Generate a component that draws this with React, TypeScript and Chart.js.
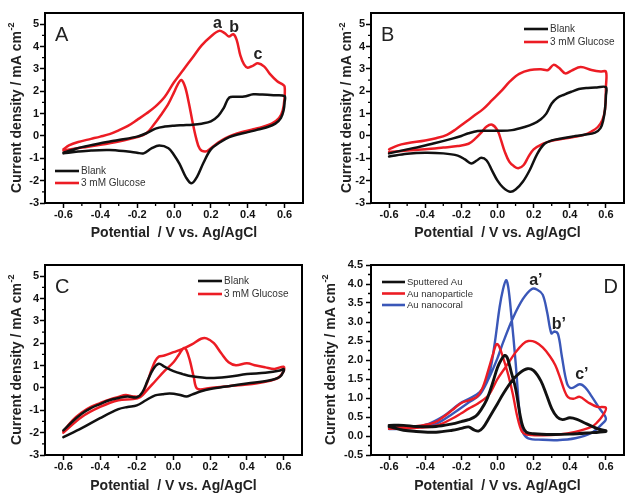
import React, { useEffect, useRef } from 'react';
import { Chart, registerables } from 'chart.js';
Chart.register(...registerables);

const FONT = '"Liberation Sans", Arial, Helvetica, sans-serif';
Chart.defaults.font.family = FONT;

// ---------------- axis ticks ----------------
const X_TICKS = [-0.6, -0.4, -0.2, 0.0, 0.2, 0.4, 0.6];
const X_MINOR = [-0.5, -0.3, -0.1, 0.1, 0.3, 0.5];
const Y_TICKS_ABC = [-3, -2, -1, 0, 1, 2, 3, 4, 5];
const Y_MINOR_ABC = [-2.5, -1.5, -0.5, 0.5, 1.5, 2.5, 3.5, 4.5];
const Y_TICKS_D = [-0.5, 0.0, 0.5, 1.0, 1.5, 2.0, 2.5, 3.0, 3.5, 4.0, 4.5];
const Y_MINOR_D = [-0.25, 0.25, 0.75, 1.25, 1.75, 2.25, 2.75, 3.25, 3.75, 4.25];

// ---------------- Panel A ----------------
const A_BLANK_E = [-0.6, -0.55, -0.5, -0.4, -0.3, -0.2, -0.15, -0.1, -0.05, 0.0, 0.05, 0.1, 0.15, 0.2, 0.24, 0.27, 0.3, 0.34, 0.38, 0.43, 0.48, 0.54, 0.6,
  0.6, 0.595, 0.58, 0.55, 0.5, 0.45, 0.4, 0.34, 0.3, 0.25, 0.2, 0.16, 0.125, 0.095, 0.065, 0.03, 0.0, -0.03, -0.08, -0.12, -0.165, -0.2, -0.25, -0.35, -0.45, -0.52, -0.6];
const A_BLANK_J = [-0.75, -0.62, -0.5, -0.33, -0.18, -0.03, 0.12, 0.33, 0.42, 0.46, 0.48, 0.5, 0.55, 0.65, 0.9, 1.25, 1.72, 1.75, 1.76, 1.86, 1.85, 1.82, 1.78,
  1.5, 1.15, 0.8, 0.55, 0.38, 0.27, 0.17, 0.05, -0.05, -0.28, -0.6, -1.2, -1.83, -2.12, -1.85, -1.25, -0.85, -0.55, -0.43, -0.55, -0.78, -0.75, -0.7, -0.63, -0.65, -0.7, -0.78];
const A_GLU_E = [-0.6, -0.57, -0.52, -0.45, -0.4, -0.35, -0.3, -0.25, -0.2, -0.15, -0.1, -0.05, 0.0, 0.05, 0.1, 0.15, 0.2, 0.245, 0.275, 0.298, 0.322, 0.34, 0.36, 0.38, 0.4, 0.43, 0.455, 0.49, 0.52, 0.56, 0.59, 0.6,
  0.6, 0.59, 0.57, 0.53, 0.48, 0.43, 0.37, 0.32, 0.28, 0.24, 0.2, 0.17, 0.14, 0.12, 0.1, 0.08, 0.06, 0.04, 0.02, 0.0, -0.03, -0.07, -0.11, -0.15, -0.2, -0.3, -0.4, -0.5, -0.6];
const A_GLU_J = [-0.6, -0.42, -0.27, -0.13, -0.03, 0.08, 0.25, 0.45, 0.72, 1.0, 1.32, 1.75, 2.4, 2.95, 3.5, 4.05, 4.45, 4.7, 4.6, 4.45, 4.55, 4.3, 3.6, 3.2, 3.05, 3.15, 3.25, 3.1, 2.78, 2.45, 2.3, 2.22,
  1.7, 1.15, 0.8, 0.55, 0.4, 0.3, 0.18, 0.05, -0.1, -0.3, -0.55, -0.7, -0.58, -0.1, 0.65, 1.5, 2.2, 2.5, 2.3, 1.95, 1.45, 0.95, 0.5, 0.12, -0.05, -0.25, -0.4, -0.52, -0.65];

// ---------------- Panel B ----------------
const B_BLANK_E = [-0.6, -0.5, -0.43, -0.35, -0.25, -0.2, -0.16, -0.11, -0.05, 0.0, 0.08, 0.15, 0.2, 0.24, 0.27, 0.3, 0.33, 0.37, 0.41, 0.45, 0.5, 0.55, 0.6,
  0.6, 0.595, 0.585, 0.57, 0.54, 0.48, 0.42, 0.36, 0.3, 0.26, 0.22, 0.18, 0.14, 0.1, 0.07, 0.03, 0.0, -0.03, -0.06, -0.09, -0.115, -0.145, -0.18, -0.22, -0.3, -0.4, -0.5, -0.6];
const B_BLANK_J = [-0.78, -0.6, -0.48, -0.33, -0.12, 0.0, 0.12, 0.22, 0.23, 0.23, 0.26, 0.4, 0.55, 0.75, 1.0, 1.45, 1.7, 1.85, 1.98, 2.1, 2.15, 2.17, 2.18,
  1.8, 1.2, 0.7, 0.35, 0.15, 0.05, -0.02, -0.1, -0.2, -0.35, -0.8, -1.5, -2.05, -2.4, -2.5, -2.3, -2.0, -1.55, -1.1, -0.98, -1.1, -1.23, -1.05, -0.88, -0.78, -0.75, -0.8, -0.92];
const B_GLU_E = [-0.6, -0.55, -0.5, -0.4, -0.34, -0.28, -0.23, -0.18, -0.13, -0.08, -0.03, 0.02, 0.07, 0.12, 0.18, 0.24, 0.28, 0.31, 0.34, 0.375, 0.41, 0.46, 0.52, 0.57, 0.6,
  0.6, 0.595, 0.58, 0.555, 0.52, 0.48, 0.42, 0.37, 0.3, 0.25, 0.2, 0.17, 0.145, 0.115, 0.09, 0.065, 0.04, 0.02, 0.0, -0.03, -0.06, -0.09, -0.12, -0.16, -0.22, -0.3, -0.4, -0.5, -0.6];
const B_GLU_J = [-0.6, -0.42, -0.33, -0.2, -0.1, 0.05, 0.3, 0.6, 0.9, 1.2, 1.6, 2.0, 2.45, 2.78, 2.95, 2.98, 2.95, 3.18, 3.05, 2.8, 2.92, 3.08, 2.95, 2.88, 2.88,
  2.2, 1.2, 0.7, 0.4, 0.2, 0.05, -0.05, -0.12, -0.22, -0.35, -0.6, -0.95, -1.3, -1.45, -1.35, -1.15, -0.7, -0.2, 0.25, 0.5, 0.42, 0.15, -0.1, -0.35, -0.45, -0.52, -0.6, -0.65, -0.72];

// ---------------- Panel C ----------------
const C_BLANK_E = [-0.6, -0.55, -0.5, -0.45, -0.4, -0.35, -0.3, -0.25, -0.2, -0.17, -0.14, -0.11, -0.08, -0.05, 0.0, 0.05, 0.1, 0.2, 0.3, 0.4, 0.5, 0.58, 0.6,
  0.6, 0.58, 0.52, 0.4, 0.3, 0.2, 0.15, 0.1, 0.07, 0.03, -0.02, -0.06, -0.1, -0.15, -0.2, -0.25, -0.3, -0.4, -0.5, -0.6];
const C_BLANK_J = [-1.9, -1.5, -1.15, -0.9, -0.72, -0.55, -0.45, -0.38, -0.42, -0.2, 0.35, 0.85, 1.08, 0.95, 0.75, 0.62, 0.52, 0.44, 0.5, 0.62, 0.68, 0.78, 0.85,
  0.75, 0.5, 0.33, 0.2, 0.08, -0.05, -0.15, -0.3, -0.38, -0.3, -0.25, -0.28, -0.33, -0.55, -0.78, -0.85, -0.95, -1.35, -1.8, -2.2];
const C_GLU_E = [-0.6, -0.55, -0.5, -0.45, -0.4, -0.35, -0.3, -0.26, -0.22, -0.18, -0.15, -0.12, -0.1, -0.08, -0.05, 0.0, 0.05, 0.1, 0.15, 0.18, 0.22, 0.26, 0.3, 0.34, 0.4, 0.45, 0.5, 0.55, 0.6,
  0.6, 0.57, 0.5, 0.4, 0.3, 0.2, 0.13, 0.11, 0.09, 0.07, 0.055, 0.03, 0.0, -0.05, -0.1, -0.15, -0.18, -0.22, -0.3, -0.4, -0.5, -0.6];
const C_GLU_J = [-1.95, -1.45, -1.1, -0.85, -0.68, -0.52, -0.4, -0.32, -0.38, -0.35, 0.1, 0.8, 1.2, 1.4, 1.45, 1.6, 1.75, 1.95, 2.2, 2.22, 2.0, 1.55, 1.15, 1.02, 1.1, 1.0, 0.92, 0.85, 0.95,
  0.75, 0.45, 0.28, 0.15, 0.08, 0.0, -0.04, 0.5, 1.2, 1.7, 1.78, 1.5, 1.15, 0.75, 0.3, -0.15, -0.4, -0.5, -0.55, -0.85, -1.3, -2.0];

// ---------------- Panel D ----------------
const D_SPUT_E = [-0.6, -0.52, -0.45, -0.34, -0.25, -0.2, -0.16, -0.13, -0.105, -0.08, -0.05, 0.0, 0.03, 0.08, 0.12, 0.165, 0.2, 0.24, 0.27, 0.3, 0.33, 0.36, 0.4, 0.44, 0.48, 0.52, 0.56, 0.6,
  0.6, 0.5, 0.4, 0.3, 0.2, 0.16, 0.14, 0.125, 0.1, 0.075, 0.055, 0.04, 0.02, 0.0, -0.03, -0.06, -0.09, -0.12, -0.16, -0.2, -0.25, -0.34, -0.45, -0.52, -0.6];
const D_SPUT_J = [0.25, 0.15, 0.12, 0.1, 0.15, 0.2, 0.24, 0.16, 0.13, 0.22, 0.45, 0.85, 1.1, 1.45, 1.65, 1.77, 1.72, 1.45, 1.1, 0.72, 0.5, 0.43, 0.48, 0.44, 0.35, 0.26, 0.18, 0.14,
  0.12, 0.08, 0.05, 0.04, 0.06, 0.1, 0.25, 0.55, 1.25, 1.7, 2.05, 2.12, 2.0, 1.8, 1.35, 0.95, 0.7, 0.52, 0.43, 0.38, 0.32, 0.25, 0.25, 0.28, 0.28];
const D_NP_E = [-0.6, -0.5, -0.43, -0.34, -0.25, -0.2, -0.16, -0.11, -0.05, 0.0, 0.05, 0.1, 0.14, 0.17, 0.21, 0.25, 0.29, 0.32, 0.345, 0.37, 0.39, 0.42, 0.455, 0.5, 0.55, 0.6,
  0.58, 0.55, 0.52, 0.43, 0.34, 0.25, 0.16, 0.135, 0.11, 0.085, 0.06, 0.035, 0.01, -0.005, -0.025, -0.05, -0.08, -0.11, -0.15, -0.2, -0.25, -0.3, -0.35, -0.43, -0.5, -0.6];
const D_NP_J = [0.19, 0.2, 0.22, 0.27, 0.46, 0.6, 0.72, 0.85, 1.07, 1.5, 1.85, 2.2, 2.42, 2.5, 2.47, 2.33, 2.1, 1.86, 1.55, 1.2, 1.02, 0.98, 1.03, 0.89, 0.77, 0.74,
  0.52, 0.35, 0.24, 0.11, 0.04, 0.02, 0.04, 0.12, 0.5, 1.1, 1.6, 2.0, 2.35, 2.42, 2.15, 1.75, 1.3, 1.05, 0.95, 0.87, 0.68, 0.5, 0.35, 0.27, 0.24, 0.24];
const D_CORAL_E = [-0.6, -0.5, -0.43, -0.34, -0.25, -0.16, -0.1, -0.05, 0.0, 0.03, 0.085, 0.14, 0.19, 0.22, 0.25, 0.275, 0.298, 0.315, 0.335, 0.356, 0.385, 0.41, 0.455, 0.485, 0.52, 0.565, 0.6,
  0.575, 0.52, 0.43, 0.33, 0.25, 0.17, 0.14, 0.125, 0.1, 0.075, 0.06, 0.048, 0.03, 0.012, -0.015, -0.04, -0.07, -0.1, -0.15, -0.21, -0.3, -0.4, -0.5, -0.6];
const D_CORAL_J = [0.18, 0.2, 0.24, 0.32, 0.58, 0.88, 1.08, 1.5, 2.05, 2.45, 3.1, 3.6, 3.87, 3.85, 3.72, 3.25, 2.7, 2.75, 2.68, 2.1, 1.38, 1.26, 1.36, 1.28, 1.05, 0.72, 0.46,
  0.3, 0.08, -0.06, -0.11, -0.1, -0.06, 0.1, 0.45, 1.95, 3.25, 3.9, 4.1, 3.85, 3.4, 2.45, 1.75, 1.35, 1.15, 1.0, 0.85, 0.52, 0.29, 0.22, 0.19];

// ---------------- labels ----------------
const LEGEND_ABC = ['Blank', '3 mM Glucose'];
const LEGEND_D = ['Sputtered Au', 'Au nanoparticle', 'Au nanocoral'];
const PEAK_A = ['a', 'b', 'c'];
const PEAK_A_E = [0.236, 0.326, 0.456];
const PEAK_A_J = [4.82, 4.64, 3.44];
const PEAK_D = ['a\u2019', 'b\u2019', 'c\u2019'];
const PEAK_D_E = [0.212, 0.339, 0.467];
const PEAK_D_J = [3.97, 2.82, 1.5];

const BLACK = '#111111';
const RED = '#ec1c24';
const BLUE = '#3a57b8';

type Series = { label: string; e: number[]; j: number[]; color: string; width: number };
type Panel = {
  letter: string; letterRight: boolean;
  canvas: { x: number; y: number; w: number; h: number };
  plot: { l: number; t: number; r: number; b: number };
  yMin: number; yMax: number; yTicks: number[]; yMinor: number[]; yDec: number; yPad: number;
  series: Series[];
  legend: { dx: number; dy: number; rowH: number; size: number; len: number };
  peaks: { t: string[]; e: number[]; j: number[] } | null;
  yTitleX: number; xTitleDy: number;
};

const PANELS: Panel[] = [
  {
    letter: 'A', letterRight: false,
    canvas: { x: 0, y: 0, w: 313, h: 247 }, plot: { l: 45, t: 13, r: 303, b: 203 },
    yMin: -3, yMax: 5.5, yTicks: Y_TICKS_ABC, yMinor: Y_MINOR_ABC, yDec: 0, yPad: 1,
    series: [
      { label: LEGEND_ABC[0], e: A_BLANK_E, j: A_BLANK_J, color: BLACK, width: 2.5 },
      { label: LEGEND_ABC[1], e: A_GLU_E, j: A_GLU_J, color: RED, width: 2.5 },
    ],
    legend: { dx: 10, dy: 158, rowH: 12, size: 10, len: 24 },
    peaks: { t: PEAK_A, e: PEAK_A_E, j: PEAK_A_J },
    yTitleX: 17, xTitleDy: 30,
  },
  {
    letter: 'B', letterRight: false,
    canvas: { x: 313, y: 0, w: 314, h: 247 }, plot: { l: 371, t: 13, r: 624, b: 203 },
    yMin: -3, yMax: 5.5, yTicks: Y_TICKS_ABC, yMinor: Y_MINOR_ABC, yDec: 0, yPad: 1,
    series: [
      { label: LEGEND_ABC[0], e: B_BLANK_E, j: B_BLANK_J, color: BLACK, width: 2.5 },
      { label: LEGEND_ABC[1], e: B_GLU_E, j: B_GLU_J, color: RED, width: 2.5 },
    ],
    legend: { dx: 153, dy: 16, rowH: 13, size: 10, len: 24 },
    peaks: null,
    yTitleX: 347.5, xTitleDy: 30,
  },
  {
    letter: 'C', letterRight: false,
    canvas: { x: 0, y: 247, w: 313, h: 247 }, plot: { l: 45, t: 265, r: 302, b: 455 },
    yMin: -3, yMax: 5.5, yTicks: Y_TICKS_ABC, yMinor: Y_MINOR_ABC, yDec: 0, yPad: 1,
    series: [
      { label: LEGEND_ABC[0], e: C_BLANK_E, j: C_BLANK_J, color: BLACK, width: 2.5 },
      { label: LEGEND_ABC[1], e: C_GLU_E, j: C_GLU_J, color: RED, width: 2.5 },
    ],
    legend: { dx: 153, dy: 16, rowH: 13, size: 10, len: 24 },
    peaks: null,
    yTitleX: 17, xTitleDy: 31,
  },
  {
    letter: 'D', letterRight: true,
    canvas: { x: 313, y: 247, w: 314, h: 247 }, plot: { l: 371, t: 265, r: 624, b: 455 },
    yMin: -0.5, yMax: 4.5, yTicks: Y_TICKS_D, yMinor: Y_MINOR_D, yDec: 1, yPad: 3,
    series: [
      { label: LEGEND_D[0], e: D_SPUT_E, j: D_SPUT_J, color: BLACK, width: 2.9 },
      { label: LEGEND_D[1], e: D_NP_E, j: D_NP_J, color: RED, width: 2.4 },
      { label: LEGEND_D[2], e: D_CORAL_E, j: D_CORAL_J, color: BLUE, width: 2.4 },
    ],
    legend: { dx: 11, dy: 17, rowH: 11.5, size: 9.5, len: 23 },
    peaks: { t: PEAK_D, e: PEAK_D_E, j: PEAK_D_J },
    yTitleX: 331, xTitleDy: 31,
  },
];

function decor(p: Panel) {
  return {
    id: 'decor' + p.letter,
    afterDatasetsDraw(chart: any) {
      const { ctx, chartArea: ca, scales } = chart;
      const xs = scales.x, ys = scales.y;
      ctx.save();
      // frame
      ctx.strokeStyle = '#000';
      ctx.lineWidth = 2;
      ctx.strokeRect(ca.left, ca.top, ca.right - ca.left, ca.bottom - ca.top);
      // minor ticks
      ctx.lineWidth = 1.3;
      ctx.beginPath();
      p.yMinor.forEach((v) => {
        const y = ys.getPixelForValue(v);
        ctx.moveTo(ca.left - 3, y); ctx.lineTo(ca.left, y);
      });
      X_MINOR.forEach((v) => {
        const x = xs.getPixelForValue(v);
        ctx.moveTo(x, ca.bottom); ctx.lineTo(x, ca.bottom + 3);
      });
      ctx.stroke();
      // panel letter
      ctx.fillStyle = '#222';
      ctx.font = `20px ${FONT}`;
      ctx.textBaseline = 'alphabetic';
      if (p.letterRight) { ctx.textAlign = 'right'; ctx.fillText(p.letter, ca.right - 6, ca.top + 28); }
      else { ctx.textAlign = 'left'; ctx.fillText(p.letter, ca.left + 10, ca.top + 28); }
      // legend
      const lg = p.legend;
      ctx.font = `${lg.size}px ${FONT}`;
      ctx.textAlign = 'left';
      ctx.textBaseline = 'middle';
      p.series.forEach((s, i) => {
        const x0 = ca.left + lg.dx, y0 = ca.top + lg.dy + i * lg.rowH;
        ctx.strokeStyle = s.color;
        ctx.lineWidth = 2.6;
        ctx.beginPath(); ctx.moveTo(x0, y0); ctx.lineTo(x0 + lg.len, y0); ctx.stroke();
        ctx.fillStyle = '#333';
        ctx.fillText(s.label, x0 + lg.len + 2, y0 + 0.5);
      });
      // peak labels
      if (p.peaks) {
        ctx.font = `bold 16px ${FONT}`;
        ctx.fillStyle = '#222';
        ctx.textAlign = 'center';
        ctx.textBaseline = 'alphabetic';
        p.peaks.t.forEach((t, i) => {
          ctx.fillText(t, xs.getPixelForValue(p.peaks!.e[i]), ys.getPixelForValue(p.peaks!.j[i]));
        });
      }
      // x title
      ctx.font = `bold 14px ${FONT}`;
      ctx.fillStyle = '#222';
      ctx.textAlign = 'center';
      ctx.textBaseline = 'middle';
      ctx.fillText('Potential  / V vs. Ag/AgCl', (ca.left + ca.right) / 2, ca.bottom + p.xTitleDy);
      // y title with superscript
      const main = 'Current density / mA cm';
      const sup = '-2';
      ctx.font = `bold 14px ${FONT}`;
      const w1 = ctx.measureText(main).width;
      ctx.font = `bold 9px ${FONT}`;
      const w2 = ctx.measureText(sup).width;
      const tot = w1 + w2;
      ctx.translate(p.yTitleX - p.canvas.x, (ca.top + ca.bottom) / 2);
      ctx.rotate(-Math.PI / 2);
      ctx.textAlign = 'left';
      ctx.font = `bold 14px ${FONT}`;
      ctx.fillText(main, -tot / 2, 0);
      ctx.font = `bold 9px ${FONT}`;
      ctx.fillText(sup, -tot / 2 + w1 + 0.5, -5);
      ctx.restore();
    },
  };
}

function makeConfig(p: Panel): any {
  const c = p.canvas, a = p.plot;
  const tickFont = { family: FONT, size: 11, weight: 'bold' as const };
  return {
    type: 'scatter',
    data: {
      datasets: p.series.map((s) => ({
        label: s.label,
        data: s.e.map((x, i) => ({ x, y: s.j[i] })),
        showLine: true,
        borderColor: s.color,
        backgroundColor: s.color,
        borderWidth: s.width,
        pointRadius: 0,
        pointHoverRadius: 0,
        tension: 0.35,
        fill: false,
        borderJoinStyle: 'round',
        borderCapStyle: 'round',
      })),
    },
    options: {
      animation: false,
      responsive: false,
      maintainAspectRatio: false,
      events: [],
      layout: { padding: { left: 0, top: a.t - c.y, right: c.x + c.w - a.r, bottom: 0 } },
      plugins: { legend: { display: false }, tooltip: { enabled: false }, title: { display: false } },
      scales: {
        x: {
          type: 'linear', position: 'bottom', min: -0.7, max: 0.7,
          afterBuildTicks: (s: any) => { s.ticks = X_TICKS.map((v) => ({ value: v })); },
          afterFit: (s: any) => { s.height = c.y + c.h - a.b; },
          ticks: { callback: (v: any) => Number(v).toFixed(1), font: tickFont, color: '#111', padding: 0.5, maxRotation: 0, autoSkip: false },
          grid: { drawOnChartArea: false, drawTicks: true, tickLength: 5, tickColor: '#000', tickWidth: 1.5 },
          border: { display: false },
          title: { display: false },
        },
        y: {
          type: 'linear', position: 'left', min: p.yMin, max: p.yMax,
          afterBuildTicks: (s: any) => { s.ticks = p.yTicks.map((v) => ({ value: v })); },
          afterFit: (s: any) => { s.width = a.l - c.x; },
          ticks: { callback: (v: any) => Number(v).toFixed(p.yDec), font: tickFont, color: '#111', padding: p.yPad, autoSkip: false },
          grid: { drawOnChartArea: false, drawTicks: true, tickLength: 5, tickColor: '#000', tickWidth: 1.5 },
          border: { display: false },
          title: { display: false },
        },
      },
    },
    plugins: [decor(p)],
  };
}

function PanelChart({ panel }: { panel: Panel }) {
  const ref = useRef<HTMLCanvasElement>(null);
  useEffect(() => {
    if (!ref.current) return;
    const chart = new Chart(ref.current, makeConfig(panel));
    return () => chart.destroy();
  }, [panel]);
  const c = panel.canvas;
  return (
    <canvas
      ref={ref}
      width={c.w}
      height={c.h}
      style={{ position: 'absolute', left: c.x, top: c.y, width: c.w, height: c.h }}
    />
  );
}

export default function App() {
  return (
    <div style={{ position: 'fixed', left: 0, top: 0, width: 627, height: 494, background: '#fff', overflow: 'hidden' }}>
      {PANELS.map((p) => (
        <PanelChart key={p.letter} panel={p} />
      ))}
    </div>
  );
}
